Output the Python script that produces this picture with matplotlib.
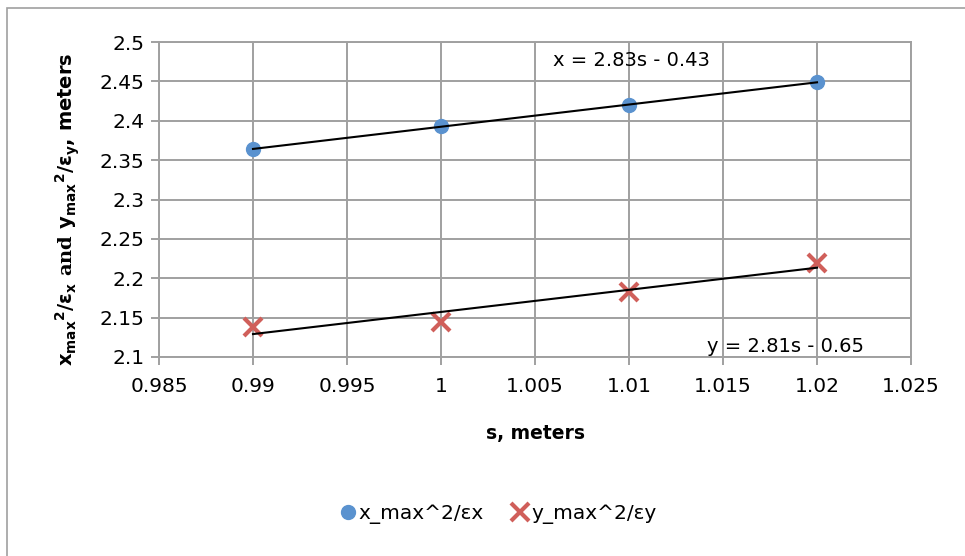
import numpy as np
import matplotlib.pyplot as plt
from matplotlib.lines import Line2D
from matplotlib.patches import Rectangle

# data
s_values = [0.99, 1.0, 1.01, 1.02]
x_ratio = [2.364, 2.393, 2.420, 2.449]
y_ratio = [2.138, 2.145, 2.183, 2.219]

x_ticks = [0.985, 0.99, 0.995, 1.0, 1.005, 1.01, 1.015, 1.02, 1.025]
x_tick_labels = ["0.985", "0.99", "0.995", "1", "1.005", "1.01", "1.015", "1.02", "1.025"]
y_ticks = [2.1, 2.15, 2.2, 2.25, 2.3, 2.35, 2.4, 2.45, 2.5]
y_tick_labels = ["2.1", "2.15", "2.2", "2.25", "2.3", "2.35", "2.4", "2.45", "2.5"]

blue = '#5A92CF'
red = '#D05F5A'
grid_col = '#A0A0A0'
eps = "\u03b5"

plt.rcParams['font.family'] = ['DejaVu Sans']
plt.rcParams['mathtext.fontset'] = 'custom'
plt.rcParams['mathtext.rm'] = 'DejaVu Sans'
plt.rcParams['mathtext.it'] = 'DejaVu Sans:italic'
plt.rcParams['mathtext.bf'] = 'DejaVu Sans:bold'
plt.rcParams['mathtext.sf'] = 'DejaVu Serif:bold'

fig = plt.figure(figsize=(9.65, 5.56), dpi=100)
fig.patches.append(Rectangle((7 / 965, -0.05), 1.2, 1 - 8 / 556 + 0.05, transform=fig.transFigure,
                             fill=False, edgecolor='#A0A0A0', linewidth=1.2))

ax = fig.add_axes([159 / 965, 1 - 357 / 556, (911 - 159) / 965, (357 - 42) / 556])
ax.set_xlim(0.985, 1.025)
ax.set_ylim(2.1, 2.5)
ax.set_xticks(x_ticks)
ax.set_xticklabels(x_tick_labels)
ax.set_yticks(y_ticks)
ax.set_yticklabels(y_tick_labels)
ax.grid(True, color=grid_col, linewidth=1.4)
ax.set_axisbelow(True)
for sp in ax.spines.values():
    sp.set_color(grid_col)
    sp.set_linewidth(1.4)
ax.tick_params(axis='both', colors=grid_col, labelcolor='black', length=5.5, width=1.4,
               labelsize=14.5)
ax.tick_params(axis='x', pad=9)
ax.tick_params(axis='y', pad=5)

ax.plot(s_values, x_ratio, 'o', color=blue, markersize=10, zorder=4, clip_on=False)
ax.plot(s_values, y_ratio, 'x', color=red, markersize=13.5, markeredgewidth=3, zorder=4, clip_on=False)

# linear trend lines, drawn over the markers
s = np.array(s_values)
for vals in (x_ratio, y_ratio):
    k, b = np.polyfit(s, np.array(vals), 1)
    ax.plot(s, k * s + b, color='black', linewidth=1.5, zorder=5)

fig.text(553 / 965, 1 - 60 / 556, "x = 2.83s - 0.43", fontsize=14, va='center', ha='left')
fig.text(707 / 965, 1 - 346 / 556, "y = 2.81s - 0.65", fontsize=14, va='center', ha='left')

fig.text(535 / 965, 1 - 434 / 556, "s, meters", fontsize=13.5, fontweight='bold',
         ha='center', va='center')
ylabel = (r"$\mathbf{x_{max}}^{\mathbf{2}}\mathbf{/" + eps + r"_x}$ $\mathsf{and}$ "
          r"$\mathbf{y_{max}}^{\mathbf{2}}\mathbf{/" + eps + r"_y}$, meters")
fig.text(68 / 965, 1 - 209 / 556, ylabel,
         fontsize=14, fontweight='bold', rotation=90, ha='center', va='center')

handles = [Line2D([], [], marker='o', linestyle='none', color=blue, markersize=10),
           Line2D([], [], marker='x', linestyle='none', color=red, markersize=13.5, markeredgewidth=3)]
fig.legend(handles, ["x_max^2/" + eps + "x", "y_max^2/" + eps + "y"], loc='center',
           bbox_to_anchor=(497 / 965, 1 - 514 / 556), ncol=2, frameon=False, fontsize=14.5,
           handletextpad=0.05, columnspacing=1.3, handlelength=1.0)

fig.savefig("out.png", dpi=100)
